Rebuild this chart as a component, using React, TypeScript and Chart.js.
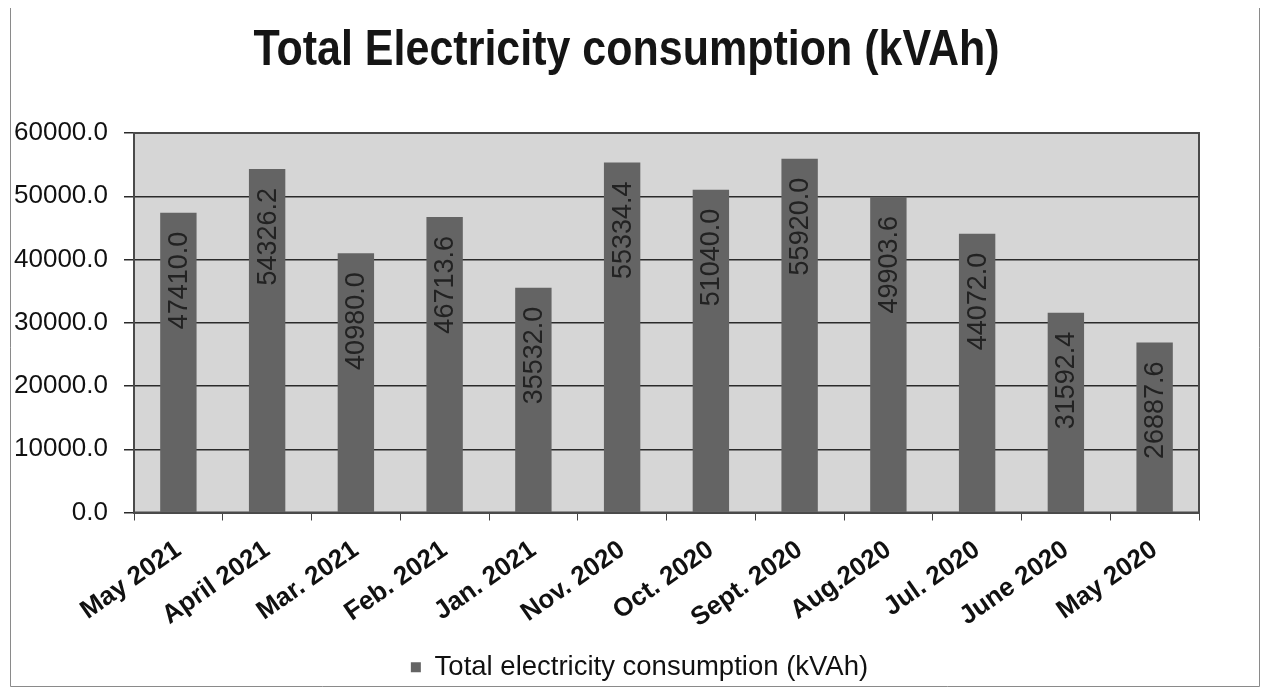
import React, { useEffect, useRef } from "react";
import { Chart, registerables } from "chart.js";

Chart.register(...registerables);

const months: string[] = [
  "May 2021",
  "April 2021",
  "Mar. 2021",
  "Feb. 2021",
  "Jan. 2021",
  "Nov. 2020",
  "Oct. 2020",
  "Sept. 2020",
  "Aug.2020",
  "Jul. 2020",
  "June 2020",
  "May 2020",
];

const consumption: number[] = [
  47410.0, 54326.2, 40980.0, 46713.6, 35532.0, 55334.4, 51040.0, 55920.0,
  49903.6, 44072.0, 31592.4, 26887.6,
];

const yTicks: number[] = [0, 10000, 20000, 30000, 40000, 50000, 60000];

const TITLE = "Total Electricity consumption (kVAh)";
const SERIES = "Total electricity consumption (kVAh)";

const FONT = "'Liberation Sans', Arial, sans-serif";
const BAR = "#646464";
const PLOT_BG = "#d6d6d6";

const plotBg = {
  id: "plotBg",
  afterLayout(chart: any) {
    const lg = chart.legend;
    if (lg) {
      lg.left += 36;
      lg.right += 36;
      lg.top += 3;
      lg.bottom += 3;
    }
  },
  beforeDraw(chart: any) {
    const { ctx, chartArea: a } = chart;
    ctx.save();
    ctx.fillStyle = PLOT_BG;
    ctx.fillRect(a.left, a.top, a.right - a.left, a.bottom - a.top);
    ctx.restore();
  },
  afterDraw(chart: any) {
    const { ctx, chartArea: a, width, height } = chart;
    ctx.save();
    ctx.strokeStyle = "#4a4a4a";
    ctx.lineWidth = 2;
    ctx.strokeRect(a.left, a.top, a.right - a.left, a.bottom - a.top);
    // outer frame
    ctx.strokeStyle = "#8a8a8a";
    ctx.lineWidth = 1;
    ctx.beginPath();
    ctx.moveTo(2.5, 0);
    ctx.lineTo(2.5, height - 1.5);
    ctx.lineTo(width - 1.5, height - 1.5);
    ctx.lineTo(width - 1.5, 0);
    ctx.stroke();
    // title (slightly tall letterforms as in the source)
    ctx.fillStyle = "#151515";
    ctx.font = `bold 43px ${FONT}`;
    ctx.textAlign = "center";
    ctx.textBaseline = "alphabetic";
    ctx.translate(618.5, 57);
    ctx.scale(1, 1.18);
    ctx.fillText(TITLE, 0, 0);
    ctx.restore();
  },
};

const barLabels = {
  id: "barLabels",
  afterDatasetsDraw(chart: any) {
    const { ctx } = chart;
    const meta = chart.getDatasetMeta(0);
    const data = chart.data.datasets[0].data as number[];
    ctx.save();
    ctx.fillStyle = "#222";
    ctx.font = `27px ${FONT}`;
    meta.data.forEach((el: any, i: number) => {
      ctx.save();
      ctx.translate(el.x, el.y + 19);
      ctx.rotate(-Math.PI / 2);
      ctx.textAlign = "right";
      ctx.textBaseline = "middle";
      ctx.fillText(data[i].toFixed(1), 0, 1);
      ctx.restore();
    });
    ctx.restore();
  },
};

export default function App() {
  const ref = useRef<HTMLCanvasElement | null>(null);

  useEffect(() => {
    if (!ref.current) return;
    const chart = new Chart(ref.current, {
      type: "bar",
      data: {
        labels: months,
        datasets: [
          {
            label: SERIES,
            data: consumption,
            backgroundColor: BAR,
            borderWidth: 0,
            barPercentage: 0.41,
            categoryPercentage: 1,
          },
        ],
      },
      options: {
        responsive: false,
        animation: false,
        layout: { padding: { left: 0, right: 62, top: 125, bottom: 0 } },
        plugins: {
          title: { display: false },
          legend: {
            display: true,
            position: "bottom",
            labels: {
              color: "#111",
              font: { family: FONT, size: 27.5 },
              boxWidth: 10,
              boxHeight: 10,
              padding: 8,
            },
          },
          tooltip: { enabled: false },
        },
        scales: {
          x: {
            grid: {
              display: true,
              drawOnChartArea: false,
              drawTicks: true,
              tickLength: 8,
              color: "#444",
              offset: true,
            },
            border: { display: true, color: "#4a4a4a", width: 2 },
            ticks: {
              autoSkip: false,
              minRotation: 35,
              maxRotation: 35,
              padding: 14,
              color: "#111",
              font: { family: FONT, size: 26, weight: "bold" },
            },
            afterFit(scale: any) {
              scale.height = 130;
            },
          },
          y: {
            min: 0,
            max: 60000,
            afterBuildTicks(scale: any) {
              scale.ticks = yTicks.map((v) => ({ value: v }));
            },
            grid: {
              color: "#2a2a2a",
              lineWidth: 1.5,
              drawTicks: true,
              tickLength: 10,
            },
            border: { display: true, color: "#4a4a4a", width: 2 },
            ticks: {
              padding: 16,
              color: "#111",
              font: { family: FONT, size: 26 },
              callback: (v: any) => Number(v).toFixed(1),
            },
            afterFit(scale: any) {
              scale.width = 126;
            },
          },
        },
      },
      plugins: [plotBg, barLabels],
    });
    return () => chart.destroy();
  }, []);

  return (
    <canvas
      ref={ref}
      width={1253}
      height={680}
      style={{ display: "block", width: 1253, height: 680 }}
    />
  );
}
